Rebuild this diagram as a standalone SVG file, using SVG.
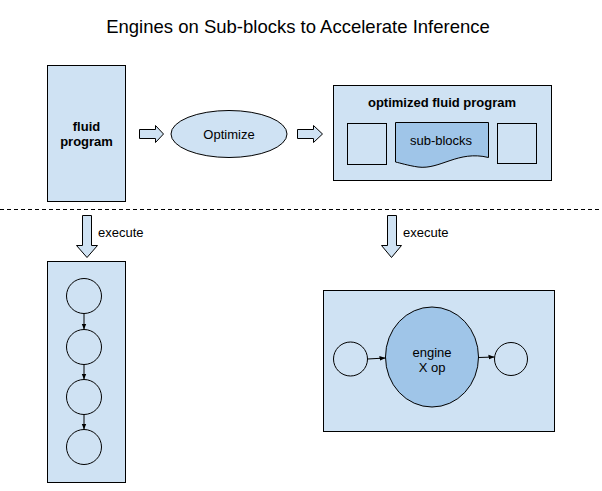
<svg xmlns="http://www.w3.org/2000/svg" width="602" height="491" viewBox="0 0 602 491">
<style>
  text { font-family: "Liberation Sans", Arial, sans-serif; fill: #000; }
  .t13 { font-size: 13px; }
  .b { font-weight: bold; }
  .box { fill: #cfe2f3; stroke: #000; stroke-width: 1; }
  .dark { fill: #9fc5e8; stroke: #000; stroke-width: 1; }
  .open { fill: none; stroke: #000; stroke-width: 1; }
  .blk { fill: #cfe2f3; stroke: #000; stroke-width: 1; stroke-linejoin: miter; }
  .conn { stroke: #000; stroke-width: 1; fill: none; marker-end: url(#ah); }
</style>
<defs>
  <marker id="ah" viewBox="0 0 10 10" refX="10" refY="5" markerWidth="6" markerHeight="6" markerUnits="userSpaceOnUse" orient="auto">
    <path d="M0,1 L10,5 L0,9 Z" fill="#000"/>
  </marker>
</defs>
<rect width="602" height="491" fill="#fff"/>
<text x="298" y="33" font-size="18.5" text-anchor="middle">Engines on Sub-blocks to Accelerate Inference</text>

<g id="fluid-program">
  <rect class="box" x="47.5" y="65.5" width="78" height="136"/>
  <text class="t13 b" x="86.5" y="131" text-anchor="middle">fluid</text>
  <text class="t13 b" x="86.5" y="146" text-anchor="middle">program</text>
</g>

<g id="optimize">
  <ellipse class="box" cx="229" cy="134" rx="58" ry="23.5"/>
  <text class="t13" x="229" y="139" text-anchor="middle">Optimize</text>
</g>

<g id="optimized-program">
  <rect class="box" x="333.5" y="85.5" width="218" height="95"/>
  <text class="t13 b" x="442" y="107" text-anchor="middle">optimized fluid program</text>
  <rect class="box" x="347.5" y="123.5" width="39" height="41"/>
  <path class="dark" d="M395.5,122.5 H488.5 V157.5 C458,150 440,170 418,167 C408,165.5 400,163 395.5,162 Z"/>
  <text class="t13" x="441" y="145" text-anchor="middle">sub-blocks</text>
  <rect class="box" x="497.5" y="123.5" width="39" height="40"/>
</g>

<line x1="0" y1="209.5" x2="602" y2="209.5" stroke="#000" stroke-width="1" stroke-dasharray="4,3"/>

<g id="exec-sequential">
  <rect class="box" x="47.5" y="261.5" width="78" height="221"/>
  <circle class="open" cx="84" cy="296" r="17.5"/>
  <circle class="open" cx="84" cy="347" r="17.5"/>
  <circle class="open" cx="84" cy="397" r="17.5"/>
  <circle class="open" cx="84" cy="447" r="17.5"/>
</g>

<g id="exec-engine">
  <rect class="box" x="323.5" y="290.5" width="231" height="141"/>
  <circle class="open" cx="350.5" cy="359" r="17"/>
  <ellipse class="dark" cx="432" cy="357" rx="46.5" ry="50"/>
  <text class="t13" x="432" y="357" text-anchor="middle">engine</text>
  <text class="t13" x="432" y="372" text-anchor="middle">X op</text>
  <circle class="open" cx="511" cy="359" r="16.5"/>
</g>

<g id="connectors">
  <path class="blk" d="M139.5,129.5 H155.5 V125.5 L163.5,134 L155.5,142.5 V138.5 H139.5 Z"/>
  <path class="blk" d="M297.5,129.5 H313.5 V125.5 L322.5,134 L313.5,142.5 V138.5 H297.5 Z"/>
  <path class="blk" d="M82.5,215.5 H91.5 V245.5 H97.5 L87,257.5 L76.5,245.5 H82.5 Z"/>
  <text class="t13" x="98" y="237">execute</text>
  <path class="blk" d="M387.5,215.5 H396.5 V245.5 H401.5 L391.5,257.5 L381.5,245.5 H387.5 Z"/>
  <text class="t13" x="403" y="237">execute</text>
  <line class="conn" x1="84" y1="313.5" x2="84" y2="329.5"/>
  <line class="conn" x1="84" y1="364.5" x2="84" y2="379.5"/>
  <line class="conn" x1="84" y1="414.5" x2="84" y2="429.5"/>
  <line class="conn" x1="367.5" y1="359" x2="385.5" y2="358"/>
  <line class="conn" x1="478.5" y1="357.5" x2="494.5" y2="357"/>
</g>
</svg>
